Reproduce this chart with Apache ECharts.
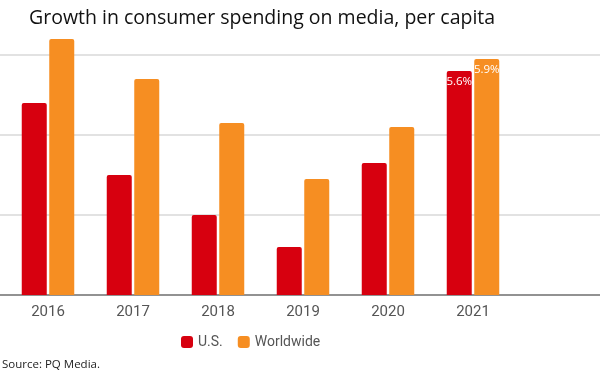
<!DOCTYPE html>
<html style="height: 100%">
<head>
    <meta charset="UTF-8">
    <title>Growth in consumer spending on media</title>
    <script src="https://cdn.jsdelivr.net/npm/echarts/dist/echarts.min.js"></script>
</head>
<body style="height: 100%; margin: 0; background: #fff">
    <div id="main" style="width: 600px; height: 375px"></div>
    <script type="text/javascript">
        // data (percent growth)
        var years = ['2016', '2017', '2018', '2019', '2020', '2021'];
        var usValues = [4.8, 3.0, 2.0, 1.2, 3.3, 5.6];
        var worldValues = [6.4, 5.4, 4.3, 2.9, 4.2, 5.9];
        var gridTicks = [0, 2, 4, 6, 8];

        var red = '#d7000f';
        var orange = '#f68e22';

        // only the last year carries a value label
        function withLastLabel(values) {
            return values.map(function (v, i) {
                if (i !== values.length - 1) return v;
                return {
                    value: v,
                    label: {
                        show: true,
                        position: 'insideTop',
                        distance: 5,
                        color: '#fff',
                        fontFamily: 'Open Sans',
                        fontSize: 11.5,
                        formatter: '{c}%'
                    }
                };
            });
        }

        var myChart = echarts.init(document.getElementById('main'));

        var option = {
            animation: false,
            title: [{
                text: 'Growth in consumer spending on media, per capita',
                left: 29,
                top: 8,
                padding: 0,
                textStyle: {
                    fontFamily: 'Open Sans',
                    fontSize: 19.5,
                    fontWeight: 'normal',
                    color: '#111'
                }
            }, {
                text: 'Source: PQ Media.',
                left: 2,
                top: 359,
                padding: 0,
                textStyle: {
                    fontFamily: 'Open Sans',
                    fontSize: 11.5,
                    fontWeight: 'normal',
                    color: '#222'
                }
            }],
            legend: {
                data: ['U.S.', 'Worldwide'],
                left: 176,
                top: 330,
                itemWidth: 12,
                itemHeight: 12,
                itemGap: 15,
                icon: 'roundRect',
                textStyle: {
                    fontFamily: 'Roboto',
                    fontSize: 14,
                    color: '#555'
                }
            },
            grid: [
                // bars
                { left: 5.5, right: 84.5, top: -25, bottom: 80, outerBoundsMode: 'none' },
                // full-width gridlines and baseline
                { left: 0, right: 0, top: -25, bottom: 80, z: 0, outerBoundsMode: 'none' }
            ],
            xAxis: [{
                type: 'category',
                gridIndex: 0,
                data: years,
                axisLine: { show: false },
                axisTick: { show: false },
                axisLabel: {
                    fontFamily: 'Roboto',
                    fontSize: 15,
                    color: '#555',
                    margin: 10
                }
            }, {
                type: 'value',
                gridIndex: 1,
                min: 0,
                max: 1,
                axisLine: { show: true, lineStyle: { color: '#777', width: 1.5 } },
                axisTick: { show: false },
                axisLabel: { show: false },
                splitLine: { show: false }
            }],
            yAxis: [{
                type: 'value',
                gridIndex: 0,
                min: gridTicks[0],
                max: gridTicks[gridTicks.length - 1],
                show: false
            }, {
                type: 'value',
                gridIndex: 1,
                min: gridTicks[0],
                max: gridTicks[gridTicks.length - 1],
                interval: 2,
                axisLine: { show: false },
                axisTick: { show: false },
                axisLabel: { show: false },
                splitLine: { show: true, lineStyle: { color: '#d9d9d9', width: 1.5 } }
            }],
            series: [{
                name: 'U.S.',
                type: 'bar',
                xAxisIndex: 0,
                yAxisIndex: 0,
                data: withLastLabel(usValues),
                barWidth: 25,
                barGap: '10%',
                itemStyle: { color: red, borderRadius: [2, 2, 0, 0] }
            }, {
                name: 'Worldwide',
                type: 'bar',
                xAxisIndex: 0,
                yAxisIndex: 0,
                data: withLastLabel(worldValues),
                barWidth: 25,
                itemStyle: { color: orange, borderRadius: [2, 2, 0, 0] }
            }]
        };

        myChart.setOption(option);
    </script>
</body>
</html>
